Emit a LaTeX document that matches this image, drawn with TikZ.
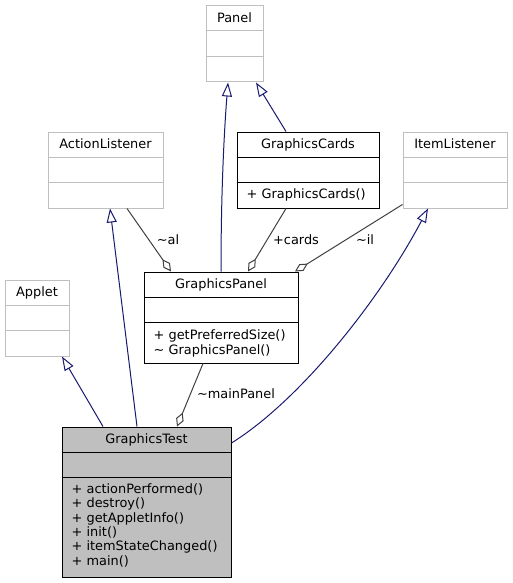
\documentclass[tikz,border=0pt]{standalone}
\usepackage{fontspec}
\setmainfont{DejaVu Sans}
\usetikzlibrary{arrows.meta,calc}
\definecolor{edgeblue}{HTML}{191970}
\definecolor{edgegray}{HTML}{404040}
\definecolor{boxgray}{HTML}{BFBFBF}
\tikzset{
  every node/.style={font=\fontsize{12.9}{14.3}\selectfont, inner sep=0pt, text height=10pt, text depth=2pt},
  method/.style={anchor=west},
  inherit/.style={draw=edgeblue, line width=1pt, -{Triangle[fill=white, length=14pt, width=10pt]}},
  agg/.style={draw=edgegray, line width=1pt, -{Diamond[fill=white, length=15pt, width=8pt]}},
}
\newcommand{\umlclass}[8]{%
  \node[draw=#6, fill=#7, line width=1pt, minimum width=#4pt, minimum height=#5pt] (#1) at (#2,#3) {};
  \draw[#6, line width=1pt] ([yshift=-25.5pt]#1.north west) -- ([yshift=-25.5pt]#1.north east);
  \draw[#6, line width=1pt] ([yshift=-51pt]#1.north west) -- ([yshift=-51pt]#1.north east);
  \node (#1-title) at ([yshift=-12.75pt]#1.north) {#8};
}
\begin{document}
\begin{tikzpicture}[x=1pt,y=-1pt]
\useasboundingbox (0,0) rectangle (512,583);
\umlclass{panel}{234.5}{44}{57}{76}{boxgray}{white}{Panel}
\umlclass{al}{105.5}{170}{115}{76}{boxgray}{white}{ActionListener}
\umlclass{gc}{308}{170}{142}{76}{black}{white}{GraphicsCards}
\umlclass{il}{455}{170}{104}{76}{boxgray}{white}{ItemListener}
\umlclass{applet}{37}{318}{64}{76}{boxgray}{white}{Applet}
\umlclass{gp}{221}{317.5}{154}{91}{black}{white}{GraphicsPanel}
\umlclass{gt}{146.5}{502}{169}{150}{black}{boxgray}{GraphicsTest}

\node[method] (gc-m1) at ([xshift=10pt,yshift=-63pt]gc.north west) {+ GraphicsCards()};
\node[method] (gp-m1) at ([xshift=10pt,yshift=-64pt]gp.north west) {+ getPreferredSize()};
\node[method] (gp-m2) at ([xshift=10pt,yshift=-78.5pt]gp.north west) {\textasciitilde{} GraphicsPanel()};
\node[method] (gt-m1) at ([xshift=10pt,yshift=-63pt]gt.north west) {+ actionPerformed()};
\node[method] (gt-m2) at ([xshift=10pt,yshift=-77.3pt]gt.north west) {+ destroy()};
\node[method] (gt-m3) at ([xshift=10pt,yshift=-91.6pt]gt.north west) {+ getAppletInfo()};
\node[method] (gt-m4) at ([xshift=10pt,yshift=-105.9pt]gt.north west) {+ init()};
\node[method] (gt-m5) at ([xshift=10pt,yshift=-120.2pt]gt.north west) {+ itemStateChanged()};
\node[method] (gt-m6) at ([xshift=10pt,yshift=-134.5pt]gt.north west) {+ main()};

% inheritance
\draw[inherit] (gp.north) .. controls +(0,-90) and +(-3,38) .. ([xshift=-6.5pt]panel.south);
\draw[inherit] ([xshift=-22pt]gc.north) -- ([xshift=21.5pt]panel.south);
\draw[inherit] ([xshift=-9.5pt]gt.north) -- ([xshift=4.5pt]al.south);
\draw[inherit] ([xshift=-43.5pt]gt.north) -- ([xshift=25pt]applet.south);
\draw[inherit] ([yshift=59pt]gt.east) .. controls +(69,-43) and +(-48,91) .. ([xshift=-27pt]il.south);

% aggregation
\draw[agg] ([xshift=21.5pt]al.south) -- ([xshift=-50pt]gp.north);
\draw[agg] ([xshift=-22pt]gc.south) -- ([xshift=27pt]gp.north);
\draw[agg] ([yshift=4pt]il.south west) -- ([xshift=74pt]gp.north);
\draw[agg] ([xshift=-18pt]gp.south) -- ([xshift=30.5pt]gt.north);

\node (l-al) at (168,240) {\textasciitilde al};
\node (l-cards) at (296,240) {+cards};
\node (l-il) at (365,240) {\textasciitilde il};
\node (l-main) at (236,394) {\textasciitilde mainPanel};
\end{tikzpicture}
\end{document}
